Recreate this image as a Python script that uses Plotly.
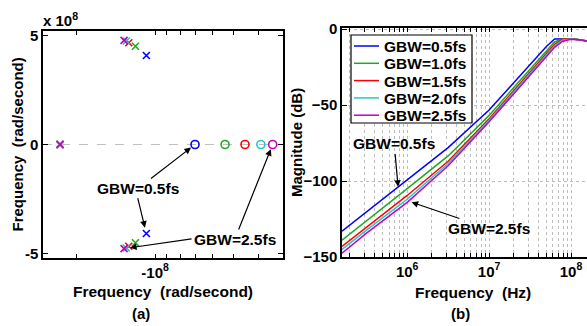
import numpy as np
import plotly.graph_objects as go

# ---------------- data ----------------
series_names = ["GBW=0.5fs", "GBW=1.0fs", "GBW=1.5fs", "GBW=2.0fs", "GBW=2.5fs"]
series_colors = ["#0000ff", "#1fa81f", "#ff0000", "#22c8c8", "#c400c4"]

# (a) pole-zero map (rad/second)
real_pole_re = [-2.32e8, -2.32e8, -2.32e8, -2.32e8, -2.32e8]
complex_pole_re = [-1.08e8, -1.19e8, -1.262e8, -1.29e8, -1.316e8]
complex_pole_im = [4.08e8, 4.50e8, 4.66e8, 4.74e8, 4.77e8]
zero_re = [-7.02e7, -5.38e7, -4.51e7, -3.92e7, -3.53e7]

# (b) magnitude response
freq_hz = [1.6e5, 3.16e5, 1e6, 3.16e6, 1e7, 2e7, 4e7, 5e7, 6.3e7, 7.94e7, 1e8, 1.26e8, 1.58e8]
mag_db = {
    "GBW=0.5fs": [-133, -120.5, -99.3, -78, -53.3, -35.5, -17.5, -11.5, -6.5, -6.2, -6.4, -7.1, -7.9],
    "GBW=1.0fs": [-139, -126.5, -105, -83.5, -56.8, -38.5, -20.5, -14.5, -8.5, -6.3, -6.4, -7.1, -7.9],
    "GBW=1.5fs": [-143, -130.5, -109.5, -87, -59, -40.5, -22, -16, -10, -6.6, -6.5, -7.1, -7.9],
    "GBW=2.0fs": [-145, -132.5, -112, -88.5, -60, -41.5, -23, -17, -11, -7.2, -6.6, -7.1, -7.9],
    "GBW=2.5fs": [-147.5, -134.5, -114, -90, -61, -42.5, -24, -18, -12, -8, -6.7, -7.1, -7.9],
}

# tick labels
pz_x_tickvals = [2e8, 1e8, 9e7, 8e7, 7e7, 6e7, 5e7, 4e7]
pz_x_ticktext = ["", "-10<sup>8</sup>", "", "", "", "", "", ""]
pz_y_tickvals = [-5e8, 0, 5e8]
pz_y_ticktext = ["-5", "0", "5"]
mag_y_tickvals = [-150, -100, -50, 0]
freq_decades = [1e5, 1e6, 1e7, 1e8]
freq_decade_labels = ["", "10<sup>6</sup>", "10<sup>7</sup>", "10<sup>8</sup>"]

W, H = 587, 326
FONT = "Liberation Sans, Arial, sans-serif"

def px(x):
    return x / W

def py(y):
    return 1 - y / H

fig = go.Figure()

# ---------- (a) pole-zero map ----------
for i, name in enumerate(series_names):
    c = series_colors[i]
    fig.add_trace(go.Scatter(
        x=[abs(real_pole_re[i]), abs(complex_pole_re[i]), abs(complex_pole_re[i])],
        y=[0, complex_pole_im[i], -complex_pole_im[i]],
        mode="markers", xaxis="x", yaxis="y", showlegend=False, name=name + " poles",
        marker=dict(symbol="x-thin-open", size=7, color=c, line=dict(color=c, width=1.6)),
    ))
    fig.add_trace(go.Scatter(
        x=[abs(zero_re[i])], y=[0],
        mode="markers", xaxis="x", yaxis="y", showlegend=False, name=name + " zeros",
        marker=dict(symbol="circle-open", size=8, color=c, line=dict(color=c, width=1.6)),
    ))

# ---------- (b) magnitude ----------
for i, name in enumerate(series_names):
    fig.add_trace(go.Scatter(
        x=freq_hz, y=mag_db[name], mode="lines", name=name,
        xaxis="x2", yaxis="y2", showlegend=False,
        line=dict(color=series_colors[i], width=1.5),
    ))

# log tick positions (decades + intermediate minor positions)
mag_x_tickvals, mag_x_ticktext = [], []
for d, lab in zip(freq_decades, freq_decade_labels):
    for m in range(1, 10):
        mag_x_tickvals.append(d * m)
        mag_x_ticktext.append(lab if m == 1 else "")

tickfont = dict(family=FONT, size=15, color="black", weight="bold")

fig.update_layout(
    width=W, height=H,
    margin=dict(l=0, r=0, t=0, b=0, autoexpand=False),
    paper_bgcolor="white", plot_bgcolor="white",
    font=dict(family=FONT, size=15, color="black", weight="bold"),
    showlegend=False,
    xaxis=dict(
        type="log", domain=[px(43), px(283)], anchor="y", automargin=False,
        range=[8.431, 7.508], autorange=False,
        tickvals=pz_x_tickvals, ticktext=pz_x_ticktext,
        ticks="inside", ticklen=4, tickcolor="black",
        showline=True, linecolor="black", linewidth=1.5, mirror="ticks",
        showgrid=False, zeroline=False, tickfont=tickfont,
    ),
    yaxis=dict(
        domain=[py(258), py(31)], anchor="x", automargin=False,
        range=[-5.2e8, 5.2e8], autorange=False,
        tickvals=pz_y_tickvals, ticktext=pz_y_ticktext,
        ticks="inside", ticklen=5, tickcolor="black",
        showline=True, linecolor="black", linewidth=1.5, mirror="ticks",
        showgrid=False, zeroline=False, tickfont=tickfont,
    ),
    xaxis2=dict(
        type="log", domain=[px(342), 1.0], anchor="y2", automargin=False,
        range=[5.204, 8.195], autorange=False,
        tickvals=mag_x_tickvals, ticktext=mag_x_ticktext,
        ticks="inside", ticklen=4, tickcolor="black",
        showline=True, linecolor="black", linewidth=1.5, mirror="ticks",
        showgrid=True, gridcolor="#bdbdbd", griddash="dot", gridwidth=1,
        zeroline=False, tickfont=tickfont,
    ),
    yaxis2=dict(
        domain=[py(257), py(28)], anchor="x2", automargin=False,
        range=[-150, 0.7], autorange=False,
        tickvals=mag_y_tickvals,
        ticks="inside", ticklen=5, tickcolor="black",
        showline=True, linecolor="black", linewidth=1.5, mirror=False,
        showgrid=True, gridcolor="#bdbdbd", griddash="dot", gridwidth=1,
        zeroline=False, tickfont=tickfont,
    ),
)

# dashed zero line on pole-zero map
fig.add_shape(type="line", xref="x domain", yref="y", x0=0, x1=1, y0=0, y1=0,
              line=dict(color="#c0c0c0", width=1, dash="dash"), layer="below")

annots = []
textfont = dict(family=FONT, size=15.5, color="black", weight="bold")

def paper_text(text, x, y, angle=0, size=15, xanchor="center"):
    annots.append(dict(text=text, xref="paper", yref="paper", x=px(x), y=py(y),
                       showarrow=False, textangle=angle, xanchor=xanchor, yanchor="middle",
                       font=dict(family=FONT, size=size, color="black", weight="bold")))

# legend box for (b)
fig.add_shape(type="rect", xref="paper", yref="paper",
              x0=px(351), x1=px(472), y0=py(123), y1=py(35),
              line=dict(color="black", width=1.2), fillcolor="white", layer="above")
for i, name in enumerate(series_names):
    ry = 46 + 17.3 * i
    fig.add_shape(type="line", xref="paper", yref="paper",
                  x0=px(354), x1=px(379), y0=py(ry), y1=py(ry),
                  line=dict(color=series_colors[i], width=1.5), layer="above")
    paper_text(name, 382, ry + 0.5, size=15.5, xanchor="left")

# titles
paper_text("Frequency&nbsp; (rad/second)", 163, 291, size=15.5)
paper_text("Frequency&nbsp; (rad/second)", 17, 144.5, angle=-90, size=15)
paper_text("x 10<sup>8</sup>", 41, 20, xanchor="left")
paper_text("(a)", 141, 313)
paper_text("Frequency&nbsp; (Hz)", 473, 292, size=15.5)
paper_text("Magnitude (dB)", 297, 142, angle=-90, size=15)
paper_text("(b)", 460, 313)

arrow_common = dict(showarrow=True, arrowhead=2, arrowsize=1.1, arrowwidth=1.2,
                    arrowcolor="black", axref="pixel", ayref="pixel", font=textfont)

lx = lambda v: float(np.log10(abs(v)))
# (a) annotations
annots.append(dict(text="GBW=0.5fs", xref="x", yref="y", x=lx(zero_re[0]), y=0,
                   ax=-57, ay=44, standoff=5, **arrow_common))
annots.append(dict(text="", xref="x", yref="y", x=lx(complex_pole_re[0]), y=-complex_pole_im[0],
                   ax=-9, ay=-37, standoff=6, **arrow_common))
annots.append(dict(text="GBW=2.5fs", xref="x", yref="y", x=lx(zero_re[4]), y=0,
                   ax=-38, ay=95, standoff=5, **arrow_common))
annots.append(dict(text="", xref="x", yref="y", x=lx(complex_pole_re[4]), y=-complex_pole_im[4],
                   ax=69, ay=-10, standoff=6, **arrow_common))

# (b) annotations
annots.append(dict(text="GBW=0.5fs", xref="x2", yref="y2", x=5.89, y=-104.5,
                   ax=-4, ay=-44, standoff=1, **arrow_common))
annots.append(dict(text="GBW=2.5fs", xref="x2", yref="y2", x=6.03, y=-113.5,
                   ax=79, ay=27, standoff=2, **arrow_common))

fig.update_layout(annotations=annots)

fig.write_html("out.html", config={"displayModeBar": False},
               post_script="document.body.style.margin='0';document.body.style.overflow='hidden';")
